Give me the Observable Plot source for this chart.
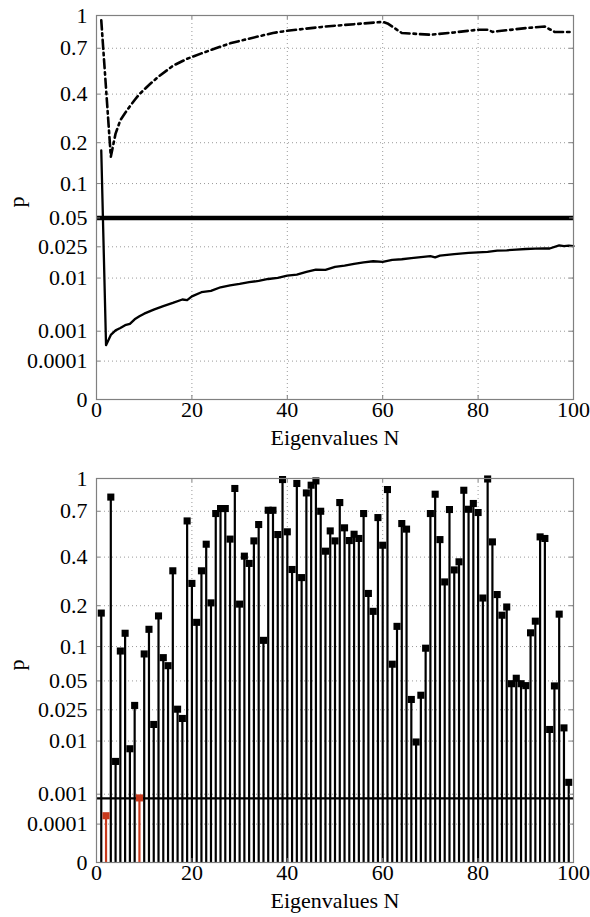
<!DOCTYPE html>
<html><head><meta charset="utf-8">
<script src="https://cdn.jsdelivr.net/npm/d3@7"></script>
<script src="https://cdn.jsdelivr.net/npm/@observablehq/plot@0.6"></script>
<style>
body{margin:0;background:#fff;}
#chart svg{display:block;}
#chart svg, #chart svg text{font-family:"Liberation Serif","Times New Roman",serif !important;}
</style></head><body><div id="chart"></div>
<script>
// ---- data ----
const xTicks = [0, 20, 40, 60, 80, 100];
const yTicks = [0, 0.0001, 0.001, 0.01, 0.025, 0.05, 0.1, 0.2, 0.4, 0.7, 1];
const xLabel = "Eigenvalues N";
const yLabel = "p";

// top panel: dash-dot curve
const upperN = [1, 3, 4, 5, 6, 7, 8, 9, 11, 13, 16, 19, 22, 25, 28, 31, 34, 37, 40, 44, 48, 52, 56, 60, 61, 64, 66, 70, 75, 80, 82, 83, 86, 90, 94, 96, 100];
const upperP = [0.95, 0.16, 0.23, 0.28, 0.31, 0.34, 0.37, 0.40, 0.45, 0.50, 0.57, 0.62, 0.66, 0.70, 0.74, 0.77, 0.80, 0.83, 0.85, 0.87, 0.89, 0.905, 0.92, 0.935, 0.92, 0.83, 0.825, 0.814, 0.835, 0.86, 0.86, 0.84, 0.855, 0.875, 0.89, 0.84, 0.838];
// top panel: solid curve
const lowerN = [1, 2, 3, 4, 5, 6, 7, 8, 9, 10, 12, 14, 16, 18, 19, 20, 22, 24, 26, 28, 30, 32, 34, 36, 38, 40, 42, 44, 46, 48, 50, 52, 54, 56, 58, 60, 62, 64, 66, 68, 70, 71, 72, 75, 78, 80, 82, 84, 86, 88, 90, 92, 94, 95, 97, 98, 99, 100];
const lowerP = [0.177, 0.0004, 0.0008, 0.00105, 0.0012, 0.0014, 0.0015, 0.0019, 0.0022, 0.0025, 0.003, 0.0035, 0.004, 0.0046, 0.0045, 0.0052, 0.0061, 0.0064, 0.0073, 0.0078, 0.0082, 0.0087, 0.0091, 0.0097, 0.0101, 0.0108, 0.0112, 0.0122, 0.0131, 0.013, 0.0142, 0.0148, 0.0156, 0.0163, 0.0168, 0.0165, 0.0175, 0.0178, 0.0184, 0.0189, 0.0194, 0.0188, 0.0197, 0.0205, 0.0212, 0.0216, 0.0219, 0.0226, 0.0228, 0.0232, 0.0236, 0.0238, 0.024, 0.0239, 0.026, 0.0255, 0.0258, 0.0254];
const topThreshold = 0.05;

// bottom panel: stems for N = 1..99
const stemP = [0.178, 0.00022, 0.82, 0.0048, 0.092, 0.127, 0.0077, 0.028, 0.0008, 0.087,
  0.136, 0.0167, 0.170, 0.081, 0.069, 0.333, 0.0254, 0.0198, 0.626, 0.279,
  0.153, 0.333, 0.472, 0.209, 0.682, 0.722, 0.722, 0.503, 0.900, 0.205,
  0.405, 0.368, 0.492, 0.600, 0.112, 0.708, 0.708, 0.532, 0.989, 0.550,
  0.339, 0.949, 0.303, 0.858, 0.932, 0.975, 0.700, 0.432, 0.556, 0.492,
  0.772, 0.577, 0.494, 0.534, 0.507, 0.682, 0.241, 0.183, 0.651, 0.466,
  0.890, 0.0711, 0.143, 0.607, 0.568, 0.0325, 0.0097, 0.036, 0.097, 0.682,
  0.846, 0.500, 0.285, 0.714, 0.337, 0.376, 0.883, 0.716, 0.764, 0.690,
  0.225, 0.995, 0.486, 0.237, 0.172, 0.196, 0.047, 0.053, 0.047, 0.045,
  0.128, 0.156, 0.517, 0.507, 0.0144, 0.0447, 0.175, 0.0151, 0.0019];
const bottomThreshold = 0.00078;

// ---- build ----
const W = 590, ML = 96, MR = 17, PH = 384;
const PW = W - ML - MR;
const red = "#c8391c";

const upper = upperN.map((n, i) => ({N: n, p: upperP[i]}));
const lower = lowerN.map((n, i) => ({N: n, p: lowerP[i]}));
const stems = stemP.map((p, i) => ({N: i + 1, p, sig: p < bottomThreshold + 0.00005}));

function panel(height, marginTop, marks) {
  const innerY = yTicks.filter(d => d > 0 && d < 1);
  const innerX = xTicks.filter(d => d > 0 && d < 100);
  return Plot.plot({
    width: W, height, marginLeft: ML, marginRight: MR, marginTop, marginBottom: height - marginTop - PH,
    style: {fontFamily: "Liberation Serif, serif", fontSize: "22px", color: "#000", background: "#fff", overflow: "visible"},
    x: {domain: [0, 100], ticks: xTicks},
    y: {type: "pow", exponent: 0.25, domain: [0, 1], ticks: yTicks},
    marks: [
      Plot.gridX(innerX, {stroke: "#9a9a9a", strokeOpacity: 1, strokeDasharray: "1,3"}),
      Plot.gridY(innerY, {stroke: "#9a9a9a", strokeOpacity: 1, strokeDasharray: "1,3"}),
      ...marks,
      Plot.frame({stroke: "#808080", strokeWidth: 1.2}),
      Plot.tickY(innerY, {insetRight: PW - 4, stroke: "#808080"}),
      Plot.tickY(innerY, {insetLeft: PW - 4, stroke: "#808080"}),
      Plot.tickX(innerX, {insetBottom: PH - 4, stroke: "#808080"}),
      Plot.tickX(innerX, {insetTop: PH - 4, stroke: "#808080"}),
      Plot.axisX({ticks: xTicks, tickSize: 0, tickPadding: 2, label: null}),
      Plot.axisY({ticks: yTicks, tickSize: 0, tickPadding: 9, tickFormat: d => String(d), label: null}),
      Plot.text([xLabel], {frameAnchor: "bottom", dy: 45, lineAnchor: "bottom"}),
      Plot.text([yLabel], {frameAnchor: "left", dx: -80, rotate: -90})
    ]
  });
}

const topPanel = panel(461, 15, [
  Plot.ruleY([topThreshold], {stroke: "#000", strokeWidth: 4.5}),
  Plot.line(lower, {x: "N", y: "p", stroke: "#000", strokeWidth: 2.3}),
  Plot.line(upper, {x: "N", y: "p", stroke: "#000", strokeWidth: 2.6, strokeDasharray: "9,4,2.5,4"})
]);

const bottomPanel = panel(456, 17, [
  Plot.ruleX(stems, {x: "N", y1: 0, y2: "p", stroke: d => d.sig ? red : "#000", strokeWidth: 2.2}),
  Plot.ruleY([bottomThreshold], {stroke: "#000", strokeWidth: 2.3}),
  Plot.dot(stems, {x: "N", y: "p", symbol: "square", r: 4, fill: d => d.sig ? red : "#000", stroke: "none"})
]);

const chart = document.getElementById("chart");
chart.appendChild(topPanel);
chart.appendChild(bottomPanel);
</script>
</body></html>
